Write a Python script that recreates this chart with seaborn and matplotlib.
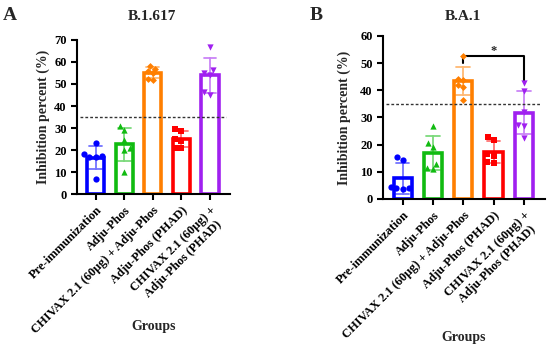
import pandas as pd
import matplotlib.pyplot as plt
import seaborn as sns

groups = ['Pre-immunization', 'Adju-Phos', 'CHIVAX 2.1 (60μg) + Adju-Phos',
          'Adju-Phos (PHAD)', 'CHIVAX 2.1 (60μg) +\nAdju-Phos (PHAD)']
colors = ['#0000ff', '#11bb11', '#ff7f00', '#ff0000', '#a020f0']
markers = ['o', '^', 'D', 's', 'v']
marker_sizes = [4.5, 4.5, 3.5, 4.5, 4.5]

# B.1.617 inhibition (%)
a_pre = [23, 18, 17.5, 17, 17, 7]
a_adju = [31, 29, 24.5, 21, 20, 10]
a_chivax = [58, 57, 56, 55, 52.5, 52]
a_phad = [29.5, 28.5, 25, 24, 21, 21]
a_chivax_phad = [67, 56.5, 55, 54, 46.5, 45]

# B.A.1 inhibition (%)
b_pre = [15.5, 14.5, 4.5, 4, 4, 3.5]
b_adju = [27, 20.5, 19, 13, 11.5, 11]
b_chivax = [52.5, 44.3, 43.8, 42, 41.4, 36.5]
b_phad = [23, 21.7, 16.6, 15.8, 13.7, 13.1]
b_chivax_phad = [42.6, 39.8, 32.2, 27.4, 26.7, 22.3]

threshold = 35


def make_df(series):
    rows = []
    for g, vals in zip(groups, series):
        for v in vals:
            rows.append({'group': g, 'value': v})
    return pd.DataFrame(rows)


def panel(ax, df, ymax, ystep):
    for g, c, m, ms in zip(groups, colors, markers, marker_sizes):
        sub = df[df['group'] == g]
        sns.barplot(data=sub, x='group', y='value', order=groups, ax=ax,
                    color=c, fill=False, width=0.6, linewidth=2.6,
                    errorbar='sd', capsize=0.45,
                    err_kws={'color': c, 'alpha': 0.55, 'linewidth': 1.3})
        sns.swarmplot(data=sub, x='group', y='value', order=groups, ax=ax,
                      color=c, marker=m, size=ms, linewidth=0)
    ax.axhline(threshold, xmin=0.02, xmax=0.975, color='#333333',
               linestyle=(0, (2, 1.5)), linewidth=1)
    ax.set_ylim(0, ymax)
    ax.set_yticks(range(0, ymax + 1, ystep))
    ax.set_xlim(-0.65, 4.7)
    for s in ['top', 'right']:
        ax.spines[s].set_visible(False)
    for s in ['left', 'bottom']:
        ax.spines[s].set_linewidth(1.5)
        ax.spines[s].set_color('black')
    ax.tick_params(axis='both', width=1.5, length=4, color='black',
                   labelsize=9, labelcolor='black')
    ax.set_xticks(range(len(groups)))
    ax.set_xticklabels(groups, rotation=45, ha='right',
                       rotation_mode='anchor', fontweight='bold',
                       fontsize=9, multialignment='center')
    for lab in ax.get_yticklabels():
        lab.set_fontweight('bold')
    ax.set_xlabel('Groups', fontweight='bold', fontsize=10, va='center')
    ax.set_ylabel('Inhibition percent (%)', fontweight='bold', fontsize=10,
                  va='center')


sns.set_style('ticks')
plt.rcParams['font.family'] = ['Liberation Serif', 'DejaVu Serif']

fig = plt.figure(figsize=(5.5, 3.53), dpi=100)
W, H = 550, 353
axA = fig.add_axes([77 / W, 1 - 194 / H, 153 / W, 154 / H])
axB = fig.add_axes([383 / W, 1 - 199 / H, 162 / W, 163 / H])

panel(axA, make_df([a_pre, a_adju, a_chivax, a_phad, a_chivax_phad]), 70, 10)
panel(axB, make_df([b_pre, b_adju, b_chivax, b_phad, b_chivax_phad]), 60, 10)

axA.xaxis.set_label_coords(0.5, -0.86)
axA.yaxis.set_label_coords(-0.22, 0.5)
axB.xaxis.set_label_coords(0.5, -0.85)
axB.yaxis.set_label_coords(-0.24, 0.5)

# significance bracket between groups 3 and 5 in B.A.1
axB.plot([2, 2, 4, 4], [50, 52.5, 52.5, 43.5], color='black', linewidth=1.5)
axB.text(3, 54.5, '*', ha='center', va='center', fontsize=9, fontweight='bold')

fig.text(152 / W, 1 - 17 / H, 'B.1.617', ha='center', va='center',
         fontsize=11, fontweight='bold')
fig.text(463 / W, 1 - 17 / H, 'B.A.1', ha='center', va='center',
         fontsize=11, fontweight='bold')
fig.text(10 / W, 1 - 15 / H, 'A', ha='center', va='center',
         fontsize=14, fontweight='bold')
fig.text(316 / W, 1 - 15 / H, 'B', ha='center', va='center',
         fontsize=14, fontweight='bold')

fig.savefig('out.png', dpi=100)
